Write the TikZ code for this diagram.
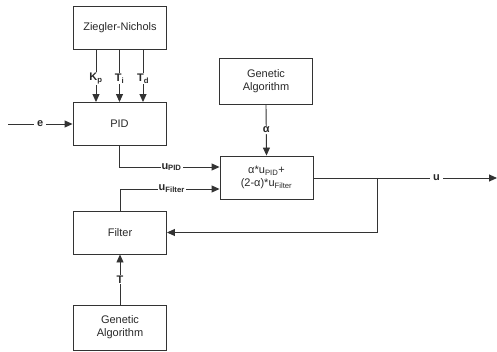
\documentclass[tikz,border=0pt]{standalone}
\usepackage{fontspec}
\setmainfont{Liberation Sans}
\usetikzlibrary{arrows.meta}
\definecolor{txt}{RGB}{40,40,40}
\begin{document}
\begin{tikzpicture}[x=1pt,y=-1pt,
  blk/.style={draw=black!80,line width=0.9pt,minimum width=93pt,minimum height=43pt,inner sep=0pt,align=center,font=\fontsize{11}{13}\selectfont,text=txt},
  lbl/.style={fill=white,inner sep=3pt,font=\fontsize{11}{13}\selectfont\bfseries,text=txt},
  con/.style={draw=black!80,line width=0.9pt},
  arr/.style={con,-{Triangle[length=8pt,width=7pt]}}]
\useasboundingbox (0,0) rectangle (497,352);
\node[blk] (zn) at (120,28) {Ziegler-Nichols};
\node[blk] (pid) at (119.5,124) {PID};
\node[blk,minimum height=46pt] (ga1) at (266,81) {Genetic\\Algorithm};
\node[blk] (mix) at (266.5,177.5) {α*u\textsubscript{PID}+\\(2-α)*u\textsubscript{Filter}};
\node[blk] (flt) at (120,232.5) {Filter};
\node[blk,minimum height=45pt] (ga2) at (120,327.5) {Genetic\\Algorithm};
\coordinate (ein) at (8,124);
\coordinate (uout) at (497,178);
\coordinate (br) at (377,178);
% Kp Ti Td
\foreach \xx/\tt in {96/K\textsubscript{p},119.5/T\textsubscript{i},143/T\textsubscript{d}}{
  \draw[arr] (zn.south -| \xx,0) -- node[lbl,pos=0.55,inner sep=1pt] {\tt} (pid.north -| \xx,0);
}
\draw[arr] (ein) -- node[lbl,pos=0.5] {e} (pid.west);
\draw[arr] (pid.south) |- node[lbl,pos=0.76,inner sep=1pt] {u\textsubscript{PID}} ([yshift=10.5pt]mix.west);
\draw[arr] (flt.north) |- node[lbl,pos=0.76,inner sep=1pt] {u\textsubscript{Filter}} ([yshift=-11.5pt]mix.west);
\draw[arr] (ga1.south) -- node[lbl,pos=0.5,inner sep=1pt] {α} (mix.north);
\draw[arr] (mix.east |- br) -- node[lbl,pos=0.67] {u} (uout);
\draw[arr] (br) |- (flt.east);
\draw[arr] (ga2.north) -- node[lbl,pos=0.5,inner sep=1pt] {T} (flt.south);
\end{tikzpicture}
\end{document}
